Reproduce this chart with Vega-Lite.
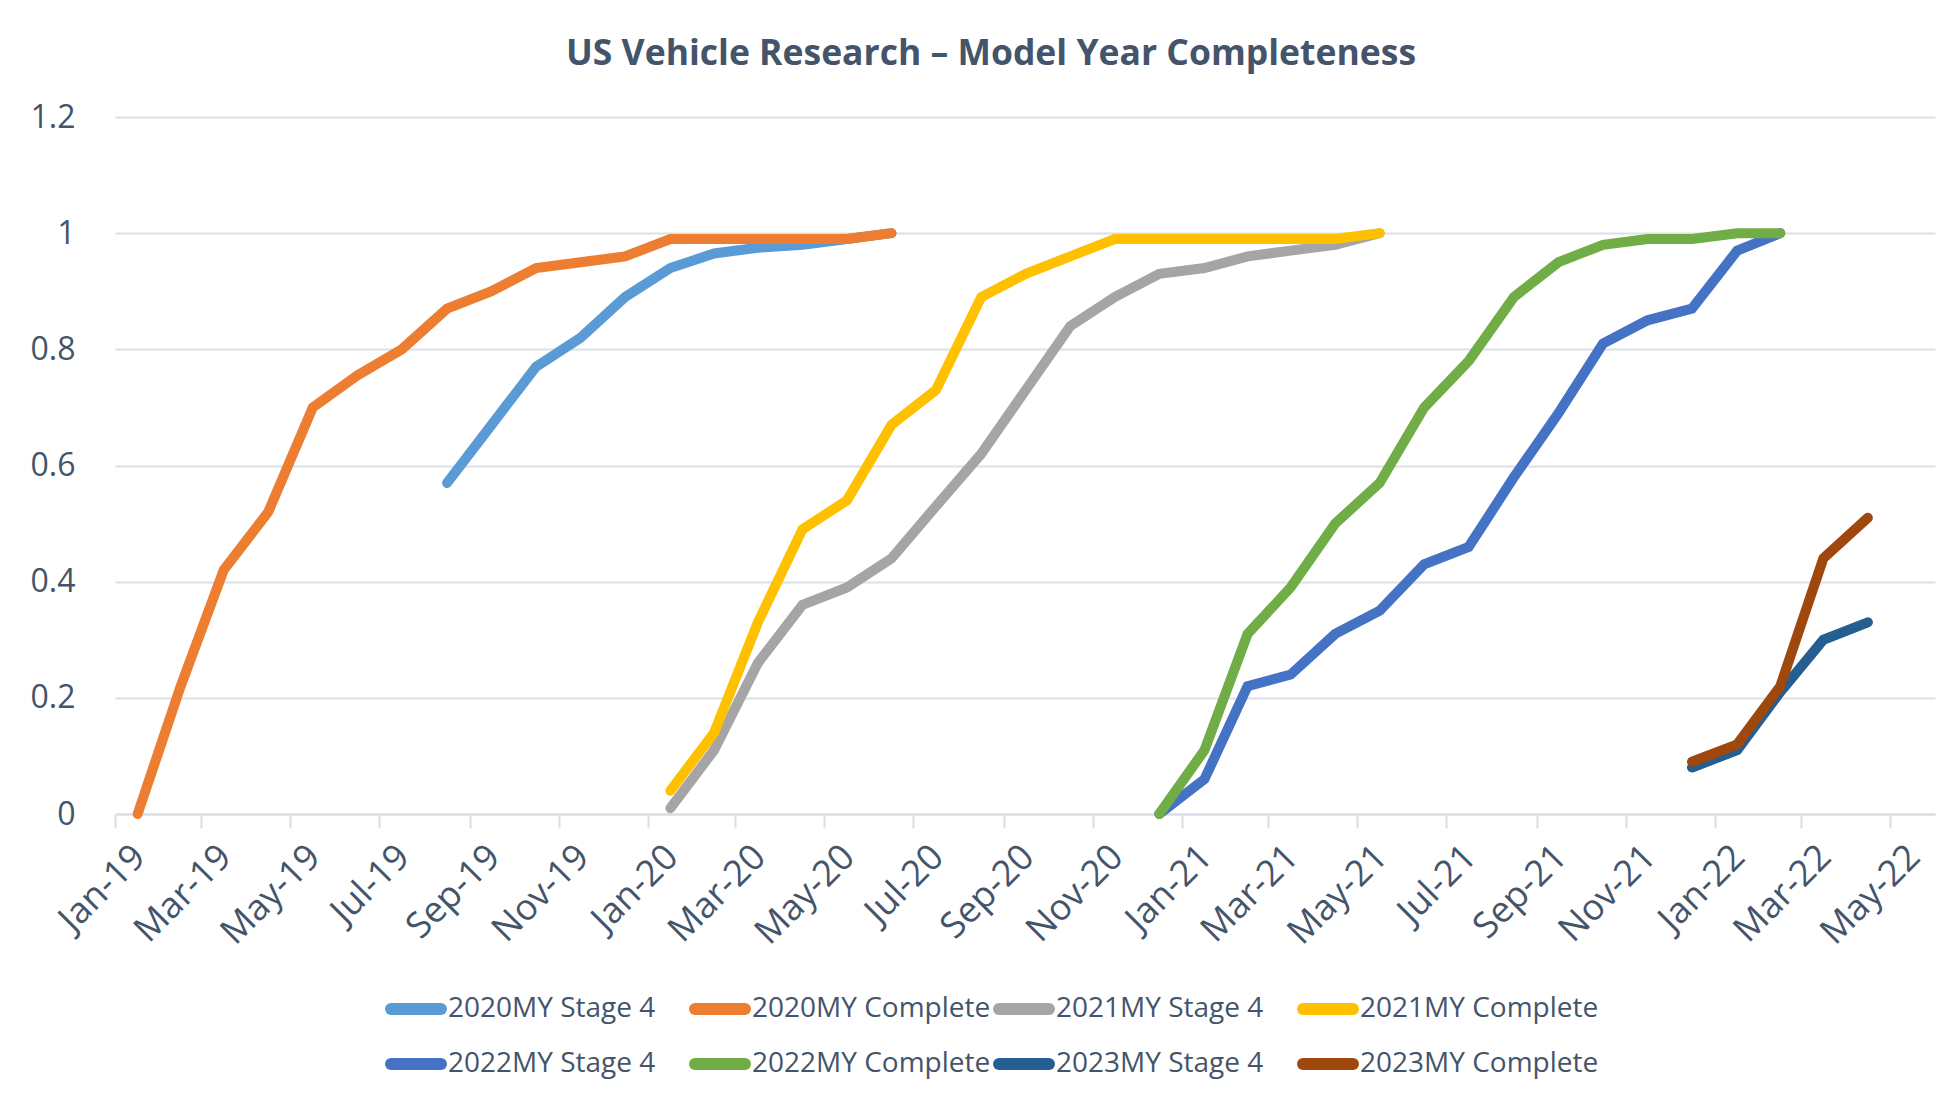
{
  "$schema": "https://vega.github.io/schema/vega-lite/v6.json",
  "autosize": "none",
  "width": 1820,
  "height": 697,
  "padding": {"left": 115, "top": 117, "right": 17, "bottom": 284},
  "background": "white",
  "config": {"font": "Open Sans", "view": {"stroke": null}},
  "title": {
    "text": "US Vehicle Research – Model Year Completeness",
    "fontSize": 35.5,
    "fontWeight": "bold",
    "color": "#44546A",
    "anchor": "middle",
    "baseline": "alphabetic",
    "dx": -34,
    "offset": 1
  },
  "data": {
    "values": [
      {"series": "2020MY Stage 4", "month": "2019-08-01", "value": 0.57},
      {"series": "2020MY Stage 4", "month": "2019-09-01", "value": 0.67},
      {"series": "2020MY Stage 4", "month": "2019-10-01", "value": 0.77},
      {"series": "2020MY Stage 4", "month": "2019-11-01", "value": 0.82},
      {"series": "2020MY Stage 4", "month": "2019-12-01", "value": 0.89},
      {"series": "2020MY Stage 4", "month": "2020-01-01", "value": 0.94},
      {"series": "2020MY Stage 4", "month": "2020-02-01", "value": 0.965},
      {"series": "2020MY Stage 4", "month": "2020-03-01", "value": 0.975},
      {"series": "2020MY Stage 4", "month": "2020-04-01", "value": 0.98},
      {"series": "2020MY Stage 4", "month": "2020-05-01", "value": 0.99},
      {"series": "2020MY Stage 4", "month": "2020-06-01", "value": 1.0},

      {"series": "2020MY Complete", "month": "2019-01-01", "value": 0.0},
      {"series": "2020MY Complete", "month": "2019-02-01", "value": 0.22},
      {"series": "2020MY Complete", "month": "2019-03-01", "value": 0.42},
      {"series": "2020MY Complete", "month": "2019-04-01", "value": 0.52},
      {"series": "2020MY Complete", "month": "2019-05-01", "value": 0.70},
      {"series": "2020MY Complete", "month": "2019-06-01", "value": 0.755},
      {"series": "2020MY Complete", "month": "2019-07-01", "value": 0.80},
      {"series": "2020MY Complete", "month": "2019-08-01", "value": 0.87},
      {"series": "2020MY Complete", "month": "2019-09-01", "value": 0.90},
      {"series": "2020MY Complete", "month": "2019-10-01", "value": 0.94},
      {"series": "2020MY Complete", "month": "2019-11-01", "value": 0.95},
      {"series": "2020MY Complete", "month": "2019-12-01", "value": 0.96},
      {"series": "2020MY Complete", "month": "2020-01-01", "value": 0.99},
      {"series": "2020MY Complete", "month": "2020-02-01", "value": 0.99},
      {"series": "2020MY Complete", "month": "2020-03-01", "value": 0.99},
      {"series": "2020MY Complete", "month": "2020-04-01", "value": 0.99},
      {"series": "2020MY Complete", "month": "2020-05-01", "value": 0.99},
      {"series": "2020MY Complete", "month": "2020-06-01", "value": 1.0},

      {"series": "2021MY Stage 4", "month": "2020-01-01", "value": 0.01},
      {"series": "2021MY Stage 4", "month": "2020-02-01", "value": 0.11},
      {"series": "2021MY Stage 4", "month": "2020-03-01", "value": 0.26},
      {"series": "2021MY Stage 4", "month": "2020-04-01", "value": 0.36},
      {"series": "2021MY Stage 4", "month": "2020-05-01", "value": 0.39},
      {"series": "2021MY Stage 4", "month": "2020-06-01", "value": 0.44},
      {"series": "2021MY Stage 4", "month": "2020-07-01", "value": 0.53},
      {"series": "2021MY Stage 4", "month": "2020-08-01", "value": 0.62},
      {"series": "2021MY Stage 4", "month": "2020-09-01", "value": 0.73},
      {"series": "2021MY Stage 4", "month": "2020-10-01", "value": 0.84},
      {"series": "2021MY Stage 4", "month": "2020-11-01", "value": 0.89},
      {"series": "2021MY Stage 4", "month": "2020-12-01", "value": 0.93},
      {"series": "2021MY Stage 4", "month": "2021-01-01", "value": 0.94},
      {"series": "2021MY Stage 4", "month": "2021-02-01", "value": 0.96},
      {"series": "2021MY Stage 4", "month": "2021-03-01", "value": 0.97},
      {"series": "2021MY Stage 4", "month": "2021-04-01", "value": 0.98},
      {"series": "2021MY Stage 4", "month": "2021-05-01", "value": 1.0},

      {"series": "2021MY Complete", "month": "2020-01-01", "value": 0.04},
      {"series": "2021MY Complete", "month": "2020-02-01", "value": 0.14},
      {"series": "2021MY Complete", "month": "2020-03-01", "value": 0.33},
      {"series": "2021MY Complete", "month": "2020-04-01", "value": 0.49},
      {"series": "2021MY Complete", "month": "2020-05-01", "value": 0.54},
      {"series": "2021MY Complete", "month": "2020-06-01", "value": 0.67},
      {"series": "2021MY Complete", "month": "2020-07-01", "value": 0.73},
      {"series": "2021MY Complete", "month": "2020-08-01", "value": 0.89},
      {"series": "2021MY Complete", "month": "2020-09-01", "value": 0.93},
      {"series": "2021MY Complete", "month": "2020-10-01", "value": 0.96},
      {"series": "2021MY Complete", "month": "2020-11-01", "value": 0.99},
      {"series": "2021MY Complete", "month": "2020-12-01", "value": 0.99},
      {"series": "2021MY Complete", "month": "2021-01-01", "value": 0.99},
      {"series": "2021MY Complete", "month": "2021-02-01", "value": 0.99},
      {"series": "2021MY Complete", "month": "2021-03-01", "value": 0.99},
      {"series": "2021MY Complete", "month": "2021-04-01", "value": 0.99},
      {"series": "2021MY Complete", "month": "2021-05-01", "value": 1.0},

      {"series": "2022MY Stage 4", "month": "2020-12-01", "value": 0.0},
      {"series": "2022MY Stage 4", "month": "2021-01-01", "value": 0.06},
      {"series": "2022MY Stage 4", "month": "2021-02-01", "value": 0.22},
      {"series": "2022MY Stage 4", "month": "2021-03-01", "value": 0.24},
      {"series": "2022MY Stage 4", "month": "2021-04-01", "value": 0.31},
      {"series": "2022MY Stage 4", "month": "2021-05-01", "value": 0.35},
      {"series": "2022MY Stage 4", "month": "2021-06-01", "value": 0.43},
      {"series": "2022MY Stage 4", "month": "2021-07-01", "value": 0.46},
      {"series": "2022MY Stage 4", "month": "2021-08-01", "value": 0.58},
      {"series": "2022MY Stage 4", "month": "2021-09-01", "value": 0.69},
      {"series": "2022MY Stage 4", "month": "2021-10-01", "value": 0.81},
      {"series": "2022MY Stage 4", "month": "2021-11-01", "value": 0.85},
      {"series": "2022MY Stage 4", "month": "2021-12-01", "value": 0.87},
      {"series": "2022MY Stage 4", "month": "2022-01-01", "value": 0.97},
      {"series": "2022MY Stage 4", "month": "2022-02-01", "value": 1.0},

      {"series": "2022MY Complete", "month": "2020-12-01", "value": 0.0},
      {"series": "2022MY Complete", "month": "2021-01-01", "value": 0.11},
      {"series": "2022MY Complete", "month": "2021-02-01", "value": 0.31},
      {"series": "2022MY Complete", "month": "2021-03-01", "value": 0.39},
      {"series": "2022MY Complete", "month": "2021-04-01", "value": 0.50},
      {"series": "2022MY Complete", "month": "2021-05-01", "value": 0.57},
      {"series": "2022MY Complete", "month": "2021-06-01", "value": 0.70},
      {"series": "2022MY Complete", "month": "2021-07-01", "value": 0.78},
      {"series": "2022MY Complete", "month": "2021-08-01", "value": 0.89},
      {"series": "2022MY Complete", "month": "2021-09-01", "value": 0.95},
      {"series": "2022MY Complete", "month": "2021-10-01", "value": 0.98},
      {"series": "2022MY Complete", "month": "2021-11-01", "value": 0.99},
      {"series": "2022MY Complete", "month": "2021-12-01", "value": 0.99},
      {"series": "2022MY Complete", "month": "2022-01-01", "value": 1.0},
      {"series": "2022MY Complete", "month": "2022-02-01", "value": 1.0},

      {"series": "2023MY Stage 4", "month": "2021-12-01", "value": 0.08},
      {"series": "2023MY Stage 4", "month": "2022-01-01", "value": 0.11},
      {"series": "2023MY Stage 4", "month": "2022-02-01", "value": 0.21},
      {"series": "2023MY Stage 4", "month": "2022-03-01", "value": 0.30},
      {"series": "2023MY Stage 4", "month": "2022-04-01", "value": 0.33},

      {"series": "2023MY Complete", "month": "2021-12-01", "value": 0.09},
      {"series": "2023MY Complete", "month": "2022-01-01", "value": 0.12},
      {"series": "2023MY Complete", "month": "2022-02-01", "value": 0.22},
      {"series": "2023MY Complete", "month": "2022-03-01", "value": 0.44},
      {"series": "2023MY Complete", "month": "2022-04-01", "value": 0.51}
    ]
  },
  "mark": {"type": "line", "strokeWidth": 10, "strokeCap": "round", "strokeJoin": "miter", "clip": false},
  "encoding": {
    "x": {
      "field": "month",
      "type": "temporal",
      "timeUnit": "utcyearmonth",
      "bandPosition": 0.5,
      "scale": {
        "domain": [
          {"year": 2019, "month": 1, "date": 1, "utc": true},
          {"year": 2022, "month": 6, "date": 1, "utc": true}
        ],
        "nice": false
      },
      "axis": {
        "title": null,
        "grid": false,
        "values": [
          {"year": 2019, "month": 1, "date": 1, "utc": true},
          {"year": 2019, "month": 3, "date": 1, "utc": true},
          {"year": 2019, "month": 5, "date": 1, "utc": true},
          {"year": 2019, "month": 7, "date": 1, "utc": true},
          {"year": 2019, "month": 9, "date": 1, "utc": true},
          {"year": 2019, "month": 11, "date": 1, "utc": true},
          {"year": 2020, "month": 1, "date": 1, "utc": true},
          {"year": 2020, "month": 3, "date": 1, "utc": true},
          {"year": 2020, "month": 5, "date": 1, "utc": true},
          {"year": 2020, "month": 7, "date": 1, "utc": true},
          {"year": 2020, "month": 9, "date": 1, "utc": true},
          {"year": 2020, "month": 11, "date": 1, "utc": true},
          {"year": 2021, "month": 1, "date": 1, "utc": true},
          {"year": 2021, "month": 3, "date": 1, "utc": true},
          {"year": 2021, "month": 5, "date": 1, "utc": true},
          {"year": 2021, "month": 7, "date": 1, "utc": true},
          {"year": 2021, "month": 9, "date": 1, "utc": true},
          {"year": 2021, "month": 11, "date": 1, "utc": true},
          {"year": 2022, "month": 1, "date": 1, "utc": true},
          {"year": 2022, "month": 3, "date": 1, "utc": true},
          {"year": 2022, "month": 5, "date": 1, "utc": true}
        ],
        "labelExpr": "utcFormat(datum.value, '%b-%y')",
        "labelAngle": -45,
        "labelAlign": "right",
        "labelBaseline": "middle",
        "labelFontSize": 36,
        "labelColor": "#44546A",
        "labelPadding": 23,
        "labelOffset": 24,
        "labelOverlap": false,
        "labelFlush": false,
        "labelBound": false,
        "domainColor": "#D9DEE5",
        "domainWidth": 2,
        "tickColor": "#D9DEE5",
        "tickWidth": 2,
        "tickSize": 14
      }
    },
    "y": {
      "field": "value",
      "type": "quantitative",
      "scale": {"domain": [0, 1.2], "nice": false},
      "axis": {
        "title": null,
        "values": [0, 0.2, 0.4, 0.6, 0.8, 1, 1.2],
        "format": ".1~f",
        "domain": false,
        "ticks": false,
        "labelFontSize": 32,
        "labelColor": "#44546A",
        "labelPadding": 40,
        "gridColor": "#DCE1E8",
        "gridWidth": 2
      }
    },
    "color": {
      "field": "series",
      "type": "nominal",
      "scale": {
        "domain": ["2020MY Stage 4", "2020MY Complete", "2021MY Stage 4", "2021MY Complete", "2022MY Stage 4", "2022MY Complete", "2023MY Stage 4", "2023MY Complete"],
        "range": ["#5B9BD5", "#ED7D31", "#A5A5A5", "#FFC000", "#4472C4", "#70AD47", "#255E91", "#9E480E"]
      },
      "legend": {
        "title": null,
        "orient": "none",
        "legendX": 270,
        "legendY": 861,
        "direction": "horizontal",
        "columns": 4,
        "gridAlign": "all",
        "padding": 0,
        "symbolType": "stroke",
        "symbolSize": 2500,
        "symbolStrokeWidth": 12,
        "labelFontSize": 28,
        "labelColor": "#44546A",
        "labelOffset": 1,
        "labelLimit": 400,
        "columnPadding": -16,
        "rowPadding": -1,
        "encode": {"symbols": {"update": {"strokeCap": {"value": "round"}}}}
      }
    }
  }
}
